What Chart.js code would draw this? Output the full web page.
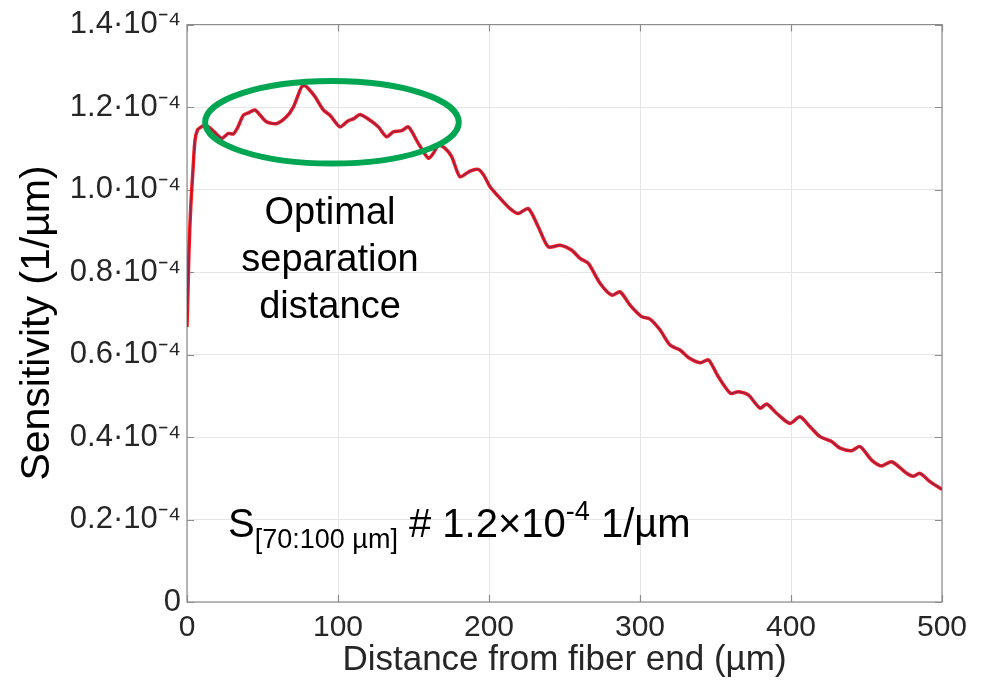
<!DOCTYPE html>
<html><head><meta charset="utf-8">
<script src="https://cdn.jsdelivr.net/npm/chart.js@4.4.1/dist/chart.umd.min.js"></script>
<style>html,body{margin:0;padding:0;background:#fff}#wrap{width:983px;height:691px;position:relative}</style>
</head><body><div id="wrap"><canvas id="c" width="983" height="691"></canvas></div>
<script>
// Distance from fiber end (µm)
const distance = [0,0.7,1.3,2.5,4,5.3,7,8.6,11,14.1,18,23,27.4,30.7,33.5,37.3,40.6,45,48.5,52.8,59.4,66,70.4,73.5,75.9,78,80.3,84.8,90.3,94.7,101.3,106.8,110.5,114.6,121.2,126.7,132.2,136.6,142.2,146.6,153.2,159.8,163.5,166.4,170.9,175.3,180.8,187.4,192.9,196.5,200.7,207.3,213.9,219.4,226,232.6,239.3,247,254.8,260.3,265.8,273.5,281.3,286.8,293.4,301.1,306.6,313.2,319.9,326.5,332,339.9,345.3,351.9,359.9,365.1,371.7,379.5,383.9,390.6,399.3,405.9,412.6,419.2,426.9,432.5,440.2,445.7,453.4,460,466.7,476.6,481,485.4,492,498.7,500];
// Sensitivity (1/µm)
const sensitivity = [0.667e-4,0.76e-4,0.85e-4,0.96e-4,1.05e-4,1.12e-4,1.145e-4,1.15e-4,1.155e-4,1.152e-4,1.14e-4,1.124e-4,1.136e-4,1.135e-4,1.15e-4,1.18e-4,1.186e-4,1.193e-4,1.18e-4,1.164e-4,1.16e-4,1.177e-4,1.2e-4,1.228e-4,1.249e-4,1.252e-4,1.245e-4,1.225e-4,1.193e-4,1.18e-4,1.152e-4,1.167e-4,1.172e-4,1.182e-4,1.168e-4,1.152e-4,1.128e-4,1.14e-4,1.143e-4,1.152e-4,1.112e-4,1.076e-4,1.09e-4,1.108e-4,1.1e-4,1.08e-4,1.031e-4,1.045e-4,1.049e-4,1.035e-4,1.007e-4,0.979e-4,0.954e-4,0.942e-4,0.954e-4,0.91e-4,0.861e-4,0.865e-4,0.853e-4,0.833e-4,0.821e-4,0.773e-4,0.744e-4,0.752e-4,0.72e-4,0.692e-4,0.686e-4,0.66e-4,0.623e-4,0.611e-4,0.593e-4,0.58e-4,0.587e-4,0.546e-4,0.506e-4,0.51e-4,0.502e-4,0.47e-4,0.48e-4,0.457e-4,0.433e-4,0.449e-4,0.425e-4,0.401e-4,0.389e-4,0.373e-4,0.367e-4,0.377e-4,0.344e-4,0.33e-4,0.34e-4,0.312e-4,0.305e-4,0.312e-4,0.292e-4,0.276e-4,0.273e-4];
const yTickLabels = ['0','0.2·10⁻⁴','0.4·10⁻⁴','0.6·10⁻⁴','0.8·10⁻⁴','1.0·10⁻⁴','1.2·10⁻⁴','1.4·10⁻⁴'];
const xTitle = 'Distance from fiber end (µm)';
const yTitle = 'Sensitivity (1/µm)';
const noteLines = ['Optimal','separation','distance'];

const points = distance.map((d,i)=>({x:d,y:sensitivity[i]}));
const FONT = "'Liberation Sans', Arial, Helvetica, sans-serif";

const decor = {
  id:'decor',
  beforeDatasetsDraw(chart){
    const {ctx, chartArea:a, scales:{x,y}} = chart;
    ctx.save();
    ctx.strokeStyle = '#8c8c8c'; ctx.lineWidth = 1.2;
    ctx.strokeRect(a.left, a.top, a.right-a.left, a.bottom-a.top);
    ctx.beginPath();
    const L = 7;
    y.ticks.forEach(t=>{const p=Math.round(y.getPixelForValue(t.value))+0.5;
      ctx.moveTo(a.left,p);ctx.lineTo(a.left+L,p);ctx.moveTo(a.right,p);ctx.lineTo(a.right-L,p);});
    x.ticks.forEach(t=>{const p=Math.round(x.getPixelForValue(t.value))+0.5;
      ctx.moveTo(p,a.bottom);ctx.lineTo(p,a.bottom-L);ctx.moveTo(p,a.top);ctx.lineTo(p,a.top+L);});
    ctx.stroke();
    // y axis title (rotated), centred like the reference
    ctx.fillStyle = '#000'; ctx.font = '41px '+FONT; ctx.textAlign='center'; ctx.textBaseline='middle';
    ctx.translate(38, 323); ctx.rotate(-Math.PI/2); ctx.fillText(yTitle, 0, 0);
    ctx.restore();
  },
  afterDatasetsDraw(chart){
    const {ctx, scales:{x,y}} = chart;
    ctx.save();
    // green ellipse around optimal region
    const cx = x.getPixelForValue(96), cy = y.getPixelForValue(1.163e-4);
    const rx = x.getPixelForValue(96+84)-cx, ry = cy - y.getPixelForValue(1.163e-4+0.1e-4);
    ctx.beginPath(); ctx.ellipse(cx, cy, rx, ry, 0, 0, Math.PI*2);
    ctx.strokeStyle = '#00a651'; ctx.lineWidth = 6; ctx.stroke();
    // note text
    ctx.fillStyle = '#000'; ctx.textAlign='center'; ctx.textBaseline='middle';
    ctx.font = '38px '+FONT;
    const tx = x.getPixelForValue(94.7), ty = y.getPixelForValue(0.943e-4);
    noteLines.forEach((s,i)=>ctx.fillText(s, tx, ty + i*47));
    // S annotation
    ctx.textAlign='left'; ctx.textBaseline='alphabetic';
    let px = x.getPixelForValue(27.2); const by = y.getPixelForValue(0.158e-4);
    const parts = [['S',40,0],['[70:100 µm]',27,11],[' # 1.2×10',40,0],['-4',27,-17],[' 1/µm',40,0]];
    parts.forEach(([s,sz,dy])=>{ctx.font = sz+'px '+FONT; ctx.fillText(s, px, by+dy); px += ctx.measureText(s).width;});
    ctx.restore();
  }
};

new Chart(document.getElementById('c'), {
  type:'line',
  data:{datasets:[
    {data:points, borderColor:'rgba(80,40,110,0.6)', borderWidth:1.5, pointRadius:0, tension:0.25, fill:false},
    {data:points, borderColor:'#ff1a1a', borderWidth:3.5, pointRadius:0, tension:0.25, fill:false}
  ]},
  options:{
    responsive:false, devicePixelRatio:1, animation:false,
    layout:{padding:{left:0, top:24, right:41, bottom:0}},
    plugins:{legend:{display:false}, tooltip:{enabled:false}},
    scales:{
      x:{type:'linear', min:0, max:500,
        ticks:{stepSize:100, color:'#262626', font:{family:FONT, size:30}, padding:8, maxRotation:0},
        grid:{color:'#e6e6e6', lineWidth:1, drawTicks:false},
        border:{display:false},
        title:{display:true, text:xTitle, color:'#262626', font:{family:FONT, size:35}, padding:{top:0,bottom:10}},
        afterFit(s){ s.height = 89; }
      },
      y:{type:'linear', min:0, max:1.4e-4,
        ticks:{stepSize:0.2e-4, color:'#262626', font:{family:FONT, size:31}, padding:6,
          callback:(v)=>yTickLabels[Math.round(v*5e4)]},
        grid:{color:'#e6e6e6', lineWidth:1, drawTicks:false},
        border:{display:false},
        title:{display:false},
        afterFit(s){ s.width = 187; }
      }
    }
  },
  plugins:[decor]
});
</script>
</body></html>
